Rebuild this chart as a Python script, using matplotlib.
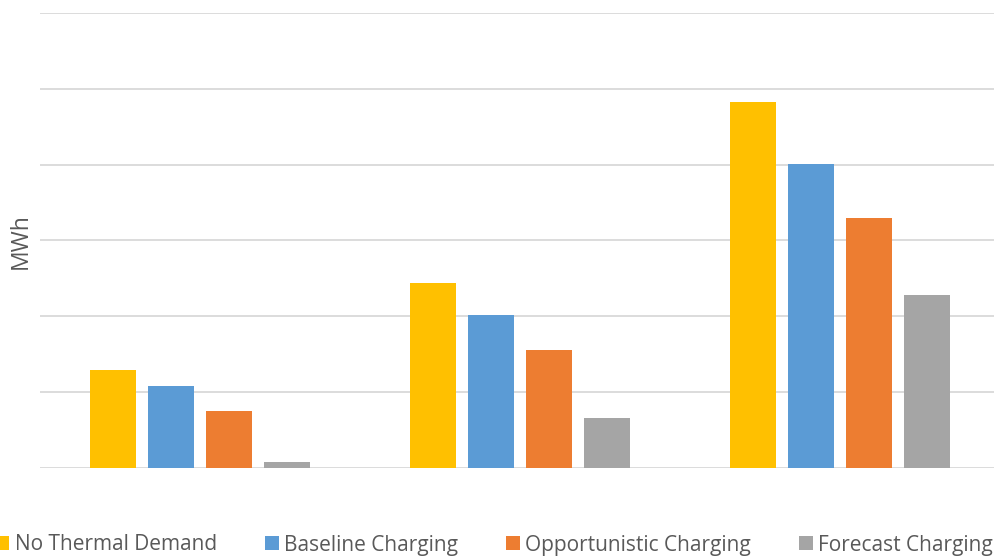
import matplotlib
matplotlib.use("Agg")
import matplotlib.pyplot as plt
import numpy as np

plt.rcParams['font.family'] = ['Open Sans', 'DejaVu Sans']

# Energy per scenario (MWh) for three unlabelled cases
categories = ["Case 1", "Case 2", "Case 3"]
series_names = ["No Thermal Demand", "Baseline Charging",
                "Opportunistic Charging", "Forecast Charging"]
no_thermal = [1.29, 2.44, 4.82]
baseline = [1.075, 2.01, 4.01]
opportunistic = [0.745, 1.55, 3.29]
forecast = [0.07, 0.65, 2.28]
series_values = [no_thermal, baseline, opportunistic, forecast]
colors = ["#FFC000", "#5B9BD5", "#ED7D31", "#A5A5A5"]

W, H = 995, 558
fig = plt.figure(figsize=(W / 100, H / 100), dpi=100)
ax = fig.add_axes([40 / W, 1 - 467.7 / H, 960 / W, (467.7 - 13) / H])

x = np.arange(len(categories))
bar_w = 46 / 320
step = 58 / 320
handles = []
for i, (vals, col) in enumerate(zip(series_values, colors)):
    offs = (i - 1.5) * step
    b = ax.bar(x + offs, vals, width=bar_w, color=col, zorder=3,
               label=series_names[i])
    handles.append(b)

ax.set_xlim(-0.5, 2.5)
ax.set_ylim(0, 6)
ax.set_yticks(np.arange(0, 7, 1))
ax.yaxis.grid(True, color="#D9D9D9", linewidth=1.3, zorder=0)
ax.set_axisbelow(True)
ax.tick_params(left=False, bottom=False, labelleft=False, labelbottom=False)
for s in ax.spines.values():
    s.set_visible(False)

fig.text(21 / W, 1 - 241 / H, "MWh", rotation=90, ha="center", va="center",
         fontsize=16.5, color="#595959")

leg = fig.legend(handles=handles, loc="center", ncol=4,
                 bbox_to_anchor=(494 / W, 1 - 545 / H), frameon=False,
                 fontsize=15, handlelength=0.67, handleheight=0.67,
                 handletextpad=0.25, columnspacing=2.3, borderpad=0,
                 labelcolor="#595959")

fig.savefig("out.png", dpi=100)
